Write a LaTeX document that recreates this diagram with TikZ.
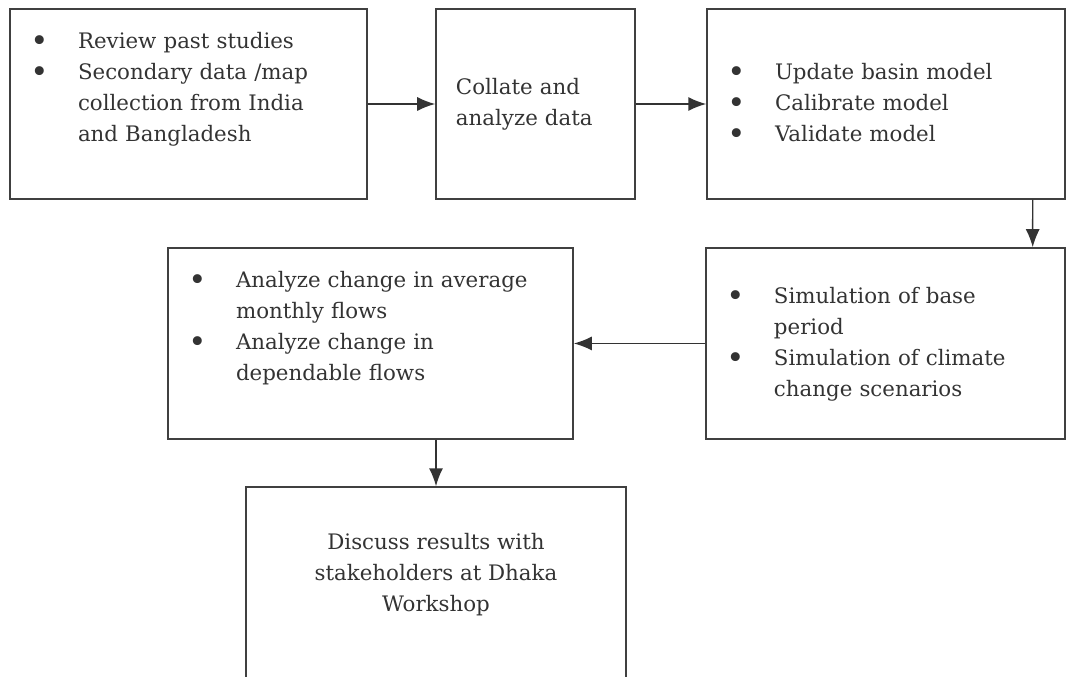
\documentclass[tikz,border=0pt]{standalone}
\usepackage{fontspec}
\setmainfont{DejaVu Serif}
\usepackage{array}
\usetikzlibrary{arrows.meta}
\newcommand\bul{\hspace*{-2pt}\raisebox{-2.25pt}{\fontsize{23}{0}\selectfont\textbullet}}

\begin{document}
\begin{tikzpicture}[
		blk/.style={rectangle,draw=black!75,line width=1.1pt,minimum height=142.5pt,text=black!80,font=\fontsize{16}{23.25}\selectfont},
		lst/.style={blk,align=left,inner xsep=17.25pt},
		arr/.style={draw=black!80,line width=1.1pt,-{Latex[length=13.5pt,width=10.5pt]}}]
				\useasboundingbox (0,0) rectangle (800.25pt,-507.75pt);
				\node[lst,text width=233.25pt] (rev) at (141.4pt,-78pt) {\begin{tabular}{@{}p{33.75pt}@{}l@{}}
					\bul & Review past studies\\
					\bul & Secondary data /map\\
					& collection from India\\
					& and Bangladesh\\
					& \end{tabular}};
				\node[lst,inner xsep=15pt,text width=119.25pt] (col) at (401.6pt,-78pt) {Collate and\\analyze data};
				\node[lst,text width=234pt] (upd) at (664.5pt,-78pt) {\begin{tabular}{@{}p{33.75pt}@{}l@{}}
					\bul & Update basin model\\
					\bul & Calibrate model\\
					\bul & Validate model
					\end{tabular}};
				\node[lst,text width=234.75pt,minimum height=143.25pt] (sim) at (664.1pt,-257.6pt) {\begin{tabular}{@{}p{33.75pt}@{}l@{}}
					\bul & Simulation of base\\
					& period\\
					\bul & Simulation of climate\\
					& change scenarios
					\end{tabular}};
				\node[lst,text width=269.25pt,minimum height=143.25pt] (ana) at (277.9pt,-257.6pt) {\begin{tabular}{@{}p{33.75pt}@{}l@{}}
					\bul & Analyze change in average\\
					& monthly flows\\
					\bul & Analyze change in\\
					& dependable flows\\
					& \end{tabular}};
				\node[blk,minimum width=285pt,minimum height=144pt] (dis) at (327pt,-437.25pt) {\begin{tabular}{@{}c@{}}
					Discuss results with\\
					stakeholders at Dhaka\\
					Workshop\\[13.5pt]
					\end{tabular}};
				\path[arr] (rev) -- (col);
				\path[arr] (col) -- (upd);
				\path[arr] ([xshift=-24.75pt]upd.south east) -- ([xshift=-24.75pt]sim.north east);
				\path[arr] (sim) -- (ana);
				\path[arr] (ana.south -| dis.north) -- (dis.north);
\end{tikzpicture}
\end{document}
